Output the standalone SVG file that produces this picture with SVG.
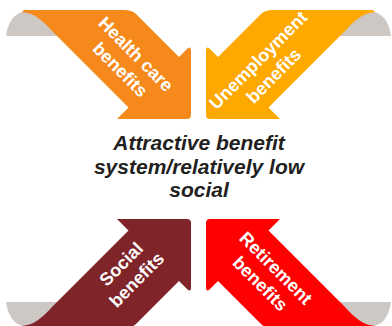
<svg xmlns="http://www.w3.org/2000/svg" xmlns:xlink="http://www.w3.org/1999/xlink" width="392" height="326" viewBox="0 0 392 326">
  <style>
    .curl { fill: #cdc8c4; }
    .lbl { font-family: "Liberation Sans", Arial, sans-serif; font-weight: bold; font-size: 18px; fill: #ffffff; text-anchor: middle; }
    .core { font-family: "Liberation Sans", Arial, sans-serif; font-weight: bold; font-style: italic; font-size: 21px; fill: #231f20; text-anchor: middle; }
  </style>
  <defs>
    <!-- ribbon arrow folding over from the top-left corner, pointing down-right -->
    <path id="ribbon" d="M24,10 L124,10 Q132,10 136,14 L179,57 L187,49 Q191,45 191,51 L191,115 Q191,119 187,119 L117,119 L128.5,107.5 L52,31 C42,20 34,13 22,12 Z"/>
    <!-- grey underside of the fold -->
    <path id="fold" d="M6,36 C8,22 14,12 28,11 L48,11 L62,36 Z"/>
  </defs>

  <g id="health-care">
    <use xlink:href="#fold" class="curl"/>
    <use xlink:href="#ribbon" fill="#f6891c"/>
    <g transform="translate(128,62) rotate(45)">
      <text class="lbl" x="0" y="-5">Health care</text>
      <text class="lbl" x="0" y="17">benefits</text>
    </g>
  </g>

  <g id="unemployment">
    <g transform="translate(397,0) scale(-1,1)">
      <use xlink:href="#fold" class="curl"/>
      <use xlink:href="#ribbon" fill="#ffa800"/>
    </g>
    <g transform="translate(266,68) rotate(-45)">
      <text class="lbl" x="0" y="-5">Unemployment</text>
      <text class="lbl" x="0" y="17">benefits</text>
    </g>
  </g>

  <g id="social">
    <g transform="translate(0,338) scale(1,-1)">
      <use xlink:href="#fold" class="curl"/>
      <use xlink:href="#ribbon" fill="#7f2428"/>
    </g>
    <g transform="translate(129,272) rotate(-45)">
      <text class="lbl" x="0" y="-5">Social</text>
      <text class="lbl" x="0" y="17">benefits</text>
    </g>
  </g>

  <g id="retirement">
    <g transform="translate(397,338) scale(-1,-1)">
      <use xlink:href="#fold" class="curl"/>
      <use xlink:href="#ribbon" fill="#fe0000"/>
    </g>
    <g transform="translate(268,276) rotate(45)">
      <text class="lbl" x="0" y="-5">Retirement</text>
      <text class="lbl" x="0" y="17">benefits</text>
    </g>
  </g>

  <g id="centre">
    <text class="core" x="199" y="150">Attractive benefit</text>
    <text class="core" x="199" y="174">system/relatively low</text>
    <text class="core" x="199" y="197">social</text>
  </g>

  <g id="connectors"/>
</svg>
